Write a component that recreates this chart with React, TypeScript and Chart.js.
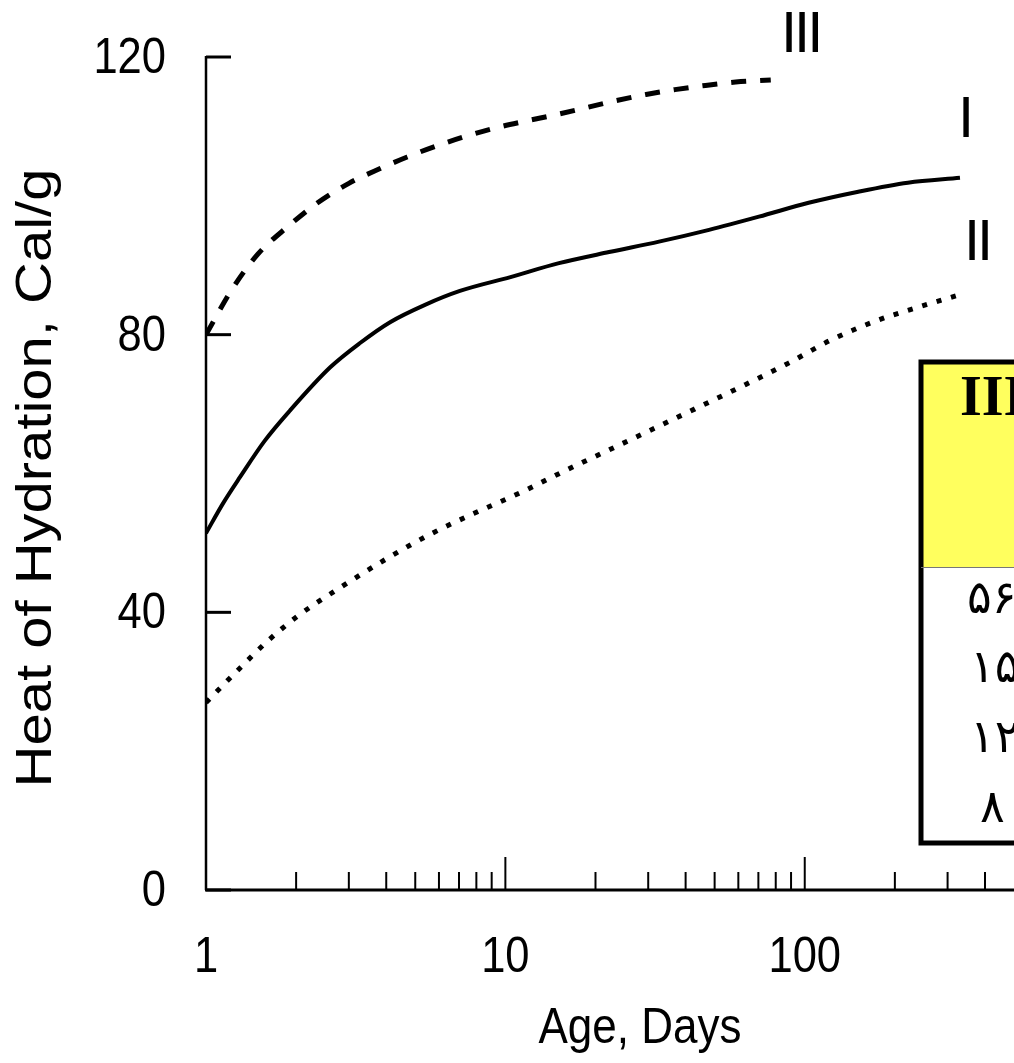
import { useEffect, useRef } from 'react';
import { Chart, registerables } from 'chart.js';

Chart.register(...registerables);

// ---- data ----
const ageI = [1, 1.14, 1.3, 1.57, 1.91, 2.6, 3.27, 4.12, 5.39, 7.05, 10.4, 15.1, 22.2, 32.6, 47.9, 70.3, 103, 151, 221, 330];
const heatI = [51.4, 55.7, 59.5, 64.7, 69.1, 75.3, 78.8, 81.8, 84.3, 86.3, 88.3, 90.3, 91.9, 93.4, 95.1, 97, 99, 100.6, 101.9, 102.6];

const ageII = [1, 1.28, 1.61, 2.03, 2.84, 4.04, 5.7, 7.9, 11.3, 16, 22.2, 31.8, 44.4, 63.3, 88.3, 122, 176, 245, 320];
const heatII = [27, 31.7, 35.9, 39.5, 43.7, 47.8, 51.4, 54.3, 57.3, 60.5, 63.4, 66.6, 69.6, 72.8, 75.9, 79.2, 82.1, 84.1, 85.6];

const ageIII = [1, 1.22, 1.49, 1.88, 2.36, 3.0, 3.8, 4.7, 5.9, 7.4, 9.3, 11.8, 14.8, 18.6, 23.3, 29.5, 36.8, 46.6, 58.8, 77];
const heatIII = [80, 86.5, 91.6, 95.6, 99.0, 101.8, 103.9, 105.6, 107.2, 108.6, 109.8, 110.8, 111.7, 112.7, 113.7, 114.6, 115.3, 115.9, 116.4, 116.7];

const yTickValues = [0, 40, 80, 120];
const yTickLabels = ['0', '40', '80', '120'];
const xMajorTicks = [1, 10, 100];
const xTickLabels = ['1', '10', '100'];
const xMinorTicks = [2, 3, 4, 5, 6, 7, 8, 9, 20, 30, 40, 50, 60, 70, 80, 90, 200, 300, 400];
const curveNames = ['I', 'II', 'III'];
const tableHeader = 'III';
const tableRows = ['۵۶', '۱۵', '۱۲', '۸'];
const xTitle = 'Age, Days';
const yTitle = 'Heat of Hydration, Cal/g';

const W = 1014;
const H = 1063;
const SANS = '"Liberation Sans", Arial, sans-serif';

const toPoints = (xs: number[], ys: number[]) => xs.map((x, i) => ({ x, y: ys[i] }));

function squeezedText(ctx: CanvasRenderingContext2D, text: string, x: number, y: number, sx: number, align: CanvasTextAlign) {
  ctx.save();
  ctx.translate(x, y);
  ctx.scale(sx, 1);
  ctx.textAlign = align;
  ctx.fillText(text, 0, 0);
  ctx.restore();
}

const overlay = {
  id: 'overlay',
  beforeDraw(chart: any) {
    const ctx = chart.ctx;
    ctx.save();
    ctx.fillStyle = '#ffffff';
    ctx.fillRect(0, 0, W, H);
    ctx.restore();
  },
  afterDraw(chart: any) {
    const ctx: CanvasRenderingContext2D = chart.ctx;
    const xs = chart.scales.x;
    const ys = chart.scales.y;
    const x0 = xs.getPixelForValue(1);
    const y0 = ys.getPixelForValue(0);
    const yTop = ys.getPixelForValue(120);
    ctx.save();
    ctx.strokeStyle = '#000';
    ctx.fillStyle = '#000';
    ctx.lineCap = 'butt';

    // y axis
    ctx.lineWidth = 2.5;
    ctx.beginPath();
    ctx.moveTo(x0, yTop - 1);
    ctx.lineTo(x0, y0);
    ctx.stroke();
    ctx.lineWidth = 3;
    yTickValues.forEach((v) => {
      const p = ys.getPixelForValue(v);
      ctx.beginPath();
      ctx.moveTo(x0, p);
      ctx.lineTo(x0 + 25, p);
      ctx.stroke();
    });
    // x axis
    ctx.lineWidth = 3;
    ctx.beginPath();
    ctx.moveTo(x0 - 1, y0);
    ctx.lineTo(W, y0);
    ctx.stroke();
    ctx.lineWidth = 2;
    xMajorTicks.forEach((v) => {
      if (v === 1) return;
      const p = xs.getPixelForValue(v);
      ctx.beginPath();
      ctx.moveTo(p, y0);
      ctx.lineTo(p, y0 - 33);
      ctx.stroke();
    });
    xMinorTicks.forEach((v) => {
      const p = xs.getPixelForValue(v);
      ctx.beginPath();
      ctx.moveTo(p, y0);
      ctx.lineTo(p, y0 - 18);
      ctx.stroke();
    });

    // tick labels
    ctx.font = `50px ${SANS}`;
    ctx.textBaseline = 'alphabetic';
    yTickValues.forEach((v, i) => {
      squeezedText(ctx, yTickLabels[i], 166, ys.getPixelForValue(v) + 16, 0.87, 'right');
    });
    xMajorTicks.forEach((v, i) => {
      squeezedText(ctx, xTickLabels[i], xs.getPixelForValue(v), 972, 0.87, 'center');
    });

    // axis titles
    squeezedText(ctx, xTitle, 640, 1043, 0.88, 'center');
    ctx.save();
    ctx.translate(51, 478);
    ctx.rotate(-Math.PI / 2);
    ctx.scale(1, 0.85);
    ctx.font = `58px ${SANS}`;
    ctx.textAlign = 'center';
    ctx.fillText(yTitle, 0, 0);
    ctx.restore();

    // curve labels
    ctx.font = `58px ${SANS}`;
    ctx.textAlign = 'left';
    (ctx as any).letterSpacing = '-3px';
    ctx.fillText(curveNames[2], 781, 52);
    ctx.fillText(curveNames[0], 958, 137);
    ctx.fillText(curveNames[1], 964, 260);
    (ctx as any).letterSpacing = '0px';

    // table (cut off at right edge)
    const tl = 921;
    const tt = 362;
    const hb = 567;
    const tb = 843;
    ctx.fillStyle = '#ffff5e';
    ctx.fillRect(tl, tt, W - tl + 5, hb - tt);
    ctx.fillStyle = '#ffffff';
    ctx.fillRect(tl, hb, W - tl + 5, tb - hb);
    ctx.strokeStyle = '#000';
    ctx.lineWidth = 5;
    ctx.strokeRect(tl, tt, W - tl + 20, tb - tt);
    ctx.lineWidth = 1;
    ctx.strokeStyle = '#777';
    ctx.beginPath();
    ctx.moveTo(tl, hb + 0.5);
    ctx.lineTo(W, hb + 0.5);
    ctx.stroke();

    ctx.fillStyle = '#000';
    ctx.font = `bold 56px "Liberation Serif", "Times New Roman", serif`;
    ctx.textAlign = 'left';
    ctx.fillText(tableHeader, 960, 415);
    ctx.font = `46px "DejaVu Sans", sans-serif`;
    ctx.textBaseline = 'middle';
    const rowY = [601, 670, 740, 810];
    const rowX = [967, 970, 970, 980];
    tableRows.forEach((t, i) => ctx.fillText(t, rowX[i], rowY[i]));
    ctx.restore();
  },
};

export default function App() {
  const ref = useRef<HTMLCanvasElement | null>(null);
  useEffect(() => {
    if (!ref.current) return;
    const chart = new Chart(ref.current, {
      type: 'line',
      data: {
        datasets: [
          {
            label: curveNames[0],
            data: toPoints(ageI, heatI),
            borderColor: '#000',
            borderWidth: 4,
            pointRadius: 0,
            cubicInterpolationMode: 'monotone',
            fill: false,
          },
          {
            label: curveNames[1],
            data: toPoints(ageII, heatII),
            borderColor: '#000',
            borderWidth: 5,
            borderDash: [5, 10],
            pointRadius: 0,
            cubicInterpolationMode: 'monotone',
            fill: false,
          },
          {
            label: curveNames[2],
            data: toPoints(ageIII, heatIII),
            borderColor: '#000',
            borderWidth: 5,
            borderDash: [15, 14],
            pointRadius: 0,
            cubicInterpolationMode: 'monotone',
            fill: false,
          },
        ],
      },
      options: {
        responsive: false,
        animation: false,
        devicePixelRatio: 1,
        layout: { padding: { left: 206, top: 57, right: 0, bottom: H - 890 } },
        plugins: { legend: { display: false }, tooltip: { enabled: false }, title: { display: false } },
        events: [],
        scales: {
          x: { type: 'logarithmic', min: 1, max: 500, display: false },
          y: { type: 'linear', min: 0, max: 120, display: false },
        },
        elements: { line: { borderCapStyle: 'butt' } },
      } as any,
      plugins: [overlay],
    });
    return () => chart.destroy();
  }, []);
  return (
    <div style={{ position: 'absolute', left: 0, top: 0, width: W, height: H, background: '#fff' }}>
      <canvas ref={ref} width={W} height={H} style={{ display: 'block', width: W, height: H }} />
    </div>
  );
}
